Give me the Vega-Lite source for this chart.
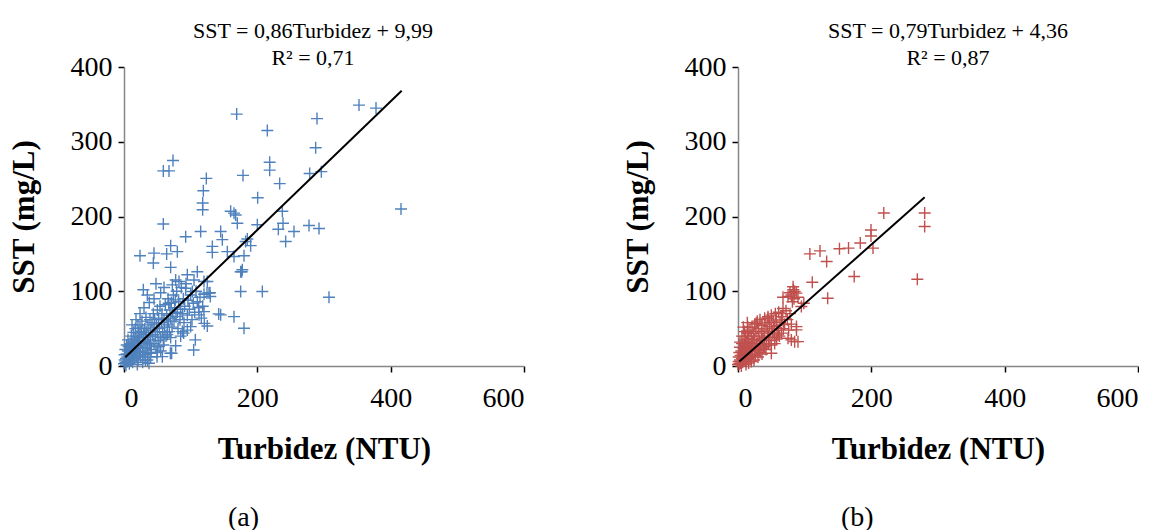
{
  "$schema": "https://vega.github.io/schema/vega-lite/v6.json",
  "background": "white",
  "padding": {"left": 8, "top": 20, "right": 0, "bottom": 0},
  "config": {
    "font": "Liberation Serif",
    "view": {"stroke": null},
    "axis": {
      "grid": false,
      "domainColor": "#868686",
      "domainWidth": 1.5,
      "tickColor": "#000000",
      "tickWidth": 1.5,
      "tickSize": 6,
      "labelFont": "Liberation Serif",
      "labelFontSize": 28,
      "labelColor": "#000000",
      "titleFont": "Liberation Serif",
      "titleFontSize": 31,
      "titleFontWeight": "bold",
      "titleColor": "#000000"
    },
    "title": {"font": "Liberation Serif", "color": "#000000", "fontWeight": "normal"}
  },
  "datasets": {
    "a": [
      {"x":169,"y":337},{"x":215,"y":315},{"x":73.5,"y":275},{"x":59,"y":261},{"x":67.5,"y":261},{"x":123.5,"y":251},{"x":178.5,"y":255},{"x":119,"y":234.5},{"x":218.5,"y":272.5},{"x":218.5,"y":262},{"x":200.5,"y":225},{"x":118,"y":218},{"x":118,"y":209},{"x":160,"y":207},{"x":165,"y":204.5},{"x":352.5,"y":349},{"x":378,"y":345},{"x":289.5,"y":331},{"x":287.5,"y":292},{"x":278.5,"y":257.5},{"x":296,"y":260},{"x":233.5,"y":244},{"x":237.5,"y":207},{"x":415.5,"y":210},{"x":277.5,"y":188},{"x":292.5,"y":184},{"x":255,"y":180},{"x":242.5,"y":166.6},{"x":238.5,"y":191},{"x":59,"y":190},{"x":167.5,"y":202},{"x":170,"y":191},{"x":92.5,"y":173},{"x":115,"y":180},{"x":145,"y":180},{"x":147.5,"y":169},{"x":70,"y":161},{"x":80,"y":153},{"x":64,"y":150},{"x":45,"y":151},{"x":24,"y":147.5},{"x":44,"y":137.7},{"x":70,"y":132},{"x":132.5,"y":160},{"x":132.5,"y":152},{"x":155,"y":153},{"x":165,"y":146.5},{"x":95,"y":122},{"x":110,"y":126},{"x":105,"y":115},{"x":120,"y":113},{"x":77.5,"y":115},{"x":72.5,"y":108.5},{"x":29,"y":102},{"x":125,"y":113},{"x":129,"y":98},{"x":175,"y":126},{"x":175,"y":99.6},{"x":231.5,"y":183},{"x":200,"y":189},{"x":185,"y":170},{"x":190,"y":161},{"x":180,"y":147.5},{"x":176.5,"y":126},{"x":207.5,"y":99.6},{"x":307.5,"y":92},{"x":182.5,"y":166.6},{"x":177.5,"y":128.7},{"x":180,"y":50.5},{"x":127.5,"y":97.5},{"x":145,"y":68.4},{"x":165,"y":66},{"x":120,"y":72.8},{"x":125,"y":53.6},{"x":112.5,"y":68.4},{"x":71.5,"y":17},{"x":77.5,"y":27},{"x":52.5,"y":26},{"x":57.5,"y":12.5},{"x":37.5,"y":3.6},{"x":95,"y":48},{"x":87.5,"y":46},{"x":100,"y":52.7},{"x":102.5,"y":99.6},{"x":92.5,"y":104},{"x":82.5,"y":113},{"x":124.5,"y":97.5},{"x":129.5,"y":93},{"x":142,"y":69.7},{"x":120.5,"y":57},{"x":67,"y":84},{"x":77,"y":88.5},{"x":89.5,"y":44},{"x":107,"y":35},{"x":104.5,"y":21.4},{"x":69.5,"y":17},{"x":39.5,"y":17},{"x":32,"y":8},{"x":49.5,"y":12.5},
      {"x":0,"y":3},{"x":1,"y":8},{"x":1,"y":15},{"x":2,"y":5},{"x":2,"y":22},{"x":3,"y":10},{"x":3,"y":1},{"x":4,"y":16},{"x":4,"y":28},{"x":5,"y":6},{"x":5,"y":12},{"x":6,"y":20},{"x":6,"y":35},{"x":7,"y":9},{"x":7,"y":26},{"x":8,"y":14},{"x":8,"y":3},{"x":9,"y":30},{"x":9,"y":18},{"x":10,"y":7},{"x":10,"y":24},{"x":11,"y":40},{"x":11,"y":13},{"x":12,"y":20},{"x":12,"y":32},{"x":13,"y":5},{"x":13,"y":26},{"x":14,"y":45},{"x":14,"y":16},{"x":15,"y":36},{"x":15,"y":22},{"x":16,"y":10},{"x":16,"y":30},{"x":17,"y":50},{"x":17,"y":19},{"x":18,"y":40},{"x":18,"y":27},{"x":19,"y":13},{"x":20,"y":34},{"x":20,"y":24},{"x":21,"y":55},{"x":21,"y":8},{"x":22,"y":44},{"x":22,"y":30},{"x":23,"y":18},{"x":24,"y":38},{"x":24,"y":52},{"x":25,"y":25},{"x":25,"y":12},{"x":26,"y":46},{"x":27,"y":33},{"x":27,"y":60},{"x":28,"y":20},{"x":29,"y":42},{"x":30,"y":30},{"x":30,"y":15},{"x":31,"y":50},{"x":32,"y":38},{"x":33,"y":24},{"x":33,"y":65},{"x":34,"y":45},{"x":35,"y":32},{"x":36,"y":55},{"x":36,"y":18},{"x":37,"y":40},{"x":38,"y":28},{"x":39,"y":62},{"x":40,"y":48},{"x":40,"y":35},{"x":41,"y":22},{"x":42,"y":58},{"x":43,"y":42},{"x":44,"y":70},{"x":45,"y":30},{"x":45,"y":52},{"x":46,"y":62},{"x":47,"y":40},{"x":48,"y":26},{"x":49,"y":56},{"x":50,"y":46},{"x":50,"y":75},{"x":51,"y":34},{"x":52,"y":64},{"x":53,"y":50},{"x":54,"y":80},{"x":55,"y":38},{"x":56,"y":58},{"x":57,"y":70},{"x":58,"y":45},{"x":59,"y":28},{"x":60,"y":62},{"x":61,"y":52},{"x":62,"y":82},{"x":63,"y":40},{"x":64,"y":68},{"x":65,"y":55},{"x":66,"y":90},{"x":67,"y":60},{"x":68,"y":46},{"x":69,"y":75},{"x":70,"y":64},{"x":71,"y":85},{"x":72,"y":52},{"x":73,"y":70},{"x":74,"y":95},{"x":75,"y":60},{"x":76,"y":78},{"x":78,"y":66},{"x":79,"y":100},{"x":80,"y":72},{"x":81,"y":50},{"x":82,"y":86},{"x":84,"y":62},{"x":85,"y":76},{"x":86,"y":105},{"x":88,"y":70},{"x":89,"y":90},{"x":90,"y":58},{"x":91,"y":80},{"x":93,"y":110},{"x":95,"y":68},{"x":96,"y":88},{"x":98,"y":76},{"x":100,"y":95},{"x":102,"y":62},{"x":104,"y":84},{"x":106,"y":72},{"x":108,"y":100},{"x":110,"y":86},{"x":112,"y":78},{"x":114,"y":92},{"x":116,"y":64},{"x":118,"y":80},{"x":120,"y":96},{"x":40,"y":12},{"x":50,"y":18},{"x":55,"y":20},{"x":60,"y":36},{"x":35,"y":8},{"x":28,"y":5},{"x":20,"y":2},{"x":65,"y":42},{"x":70,"y":38},{"x":85,"y":40},{"x":24,"y":70},{"x":30,"y":78},{"x":18,"y":62},{"x":12,"y":55},{"x":38,"y":85},{"x":45,"y":90},{"x":55,"y":98},{"x":60,"y":105},{"x":48,"y":110},{"x":35,"y":95}
    ],
    "b": [
      {"x":218.7,"y":204.7},{"x":199.5,"y":182},{"x":199.5,"y":174},{"x":202.5,"y":157.7},{"x":183.4,"y":164.5},{"x":165.8,"y":157.7},{"x":152.2,"y":156.8},{"x":123,"y":154},{"x":107.8,"y":150},{"x":133,"y":139.8},{"x":174.3,"y":119.7},{"x":269,"y":116},{"x":280,"y":204.7},{"x":280,"y":186.7},{"x":111.4,"y":112},{"x":134.5,"y":90.7},{"x":82.7,"y":106},{"x":85,"y":99.6},{"x":80,"y":95},{"x":75,"y":93},{"x":87.7,"y":97.5},{"x":67.5,"y":92},{"x":81.6,"y":86},{"x":98.7,"y":84},{"x":95,"y":79.5},{"x":67.5,"y":77},{"x":65,"y":66},{"x":57.4,"y":61.7},{"x":44.9,"y":63.9},{"x":47.3,"y":52.7},{"x":87.7,"y":52.7},{"x":85,"y":32.6},{"x":75,"y":37.1},{"x":27.2,"y":57.2},{"x":60,"y":41.6},{"x":50,"y":17},{"x":32.2,"y":21.4},{"x":87.7,"y":48.3},{"x":80,"y":34.9},{"x":90,"y":32.6},{"x":54.9,"y":52.7},{"x":28.7,"y":57.2},{"x":14.6,"y":44},{"x":83,"y":102},{"x":78,"y":98},{"x":84,"y":90},{"x":90,"y":92},
      {"x":0,"y":2},{"x":1,"y":6},{"x":1,"y":12},{"x":2,"y":3},{"x":2,"y":18},{"x":3,"y":8},{"x":3,"y":25},{"x":4,"y":4},{"x":4,"y":14},{"x":5,"y":20},{"x":5,"y":0},{"x":6,"y":10},{"x":6,"y":30},{"x":7,"y":16},{"x":7,"y":5},{"x":8,"y":24},{"x":8,"y":12},{"x":9,"y":35},{"x":9,"y":8},{"x":10,"y":18},{"x":10,"y":28},{"x":11,"y":14},{"x":11,"y":40},{"x":12,"y":22},{"x":12,"y":6},{"x":13,"y":32},{"x":14,"y":16},{"x":14,"y":44},{"x":15,"y":26},{"x":15,"y":10},{"x":16,"y":36},{"x":17,"y":20},{"x":18,"y":48},{"x":18,"y":30},{"x":19,"y":12},{"x":20,"y":40},{"x":20,"y":24},{"x":21,"y":52},{"x":22,"y":32},{"x":22,"y":16},{"x":23,"y":44},{"x":24,"y":26},{"x":25,"y":56},{"x":25,"y":36},{"x":26,"y":20},{"x":27,"y":46},{"x":28,"y":30},{"x":29,"y":60},{"x":30,"y":40},{"x":30,"y":22},{"x":31,"y":50},{"x":32,"y":34},{"x":33,"y":62},{"x":34,"y":28},{"x":35,"y":44},{"x":36,"y":54},{"x":37,"y":36},{"x":38,"y":24},{"x":39,"y":48},{"x":40,"y":64},{"x":40,"y":38},{"x":42,"y":56},{"x":43,"y":30},{"x":44,"y":46},{"x":45,"y":66},{"x":46,"y":40},{"x":47,"y":58},{"x":48,"y":34},{"x":50,"y":50},{"x":50,"y":68},{"x":52,"y":44},{"x":53,"y":60},{"x":55,"y":38},{"x":56,"y":70},{"x":58,"y":54},{"x":60,"y":48},{"x":61,"y":72},{"x":63,"y":58},{"x":65,"y":44},{"x":67,"y":66},{"x":70,"y":56},{"x":72,"y":74},{"x":74,"y":62},{"x":76,"y":48},{"x":78,"y":70},{"x":80,"y":56},{"x":3,"y":32},{"x":6,"y":40},{"x":10,"y":46},{"x":15,"y":52},{"x":24,"y":8},{"x":30,"y":12},{"x":36,"y":16},{"x":42,"y":22},{"x":50,"y":28},{"x":58,"y":36},{"x":16,"y":4},{"x":20,"y":6},{"x":12,"y":2},{"x":26,"y":14},{"x":33,"y":18},{"x":40,"y":26},{"x":46,"y":30},{"x":62,"y":40},{"x":68,"y":50},{"x":55,"y":30},{"x":8,"y":52},{"x":14,"y":58}
    ],
    "fitA": [{"x":2,"y":11.7},{"x":416.5,"y":368.2}],
    "fitB": [{"x":2,"y":5.9},{"x":280,"y":225.6}]
  },
  "spacing": 97,
  "hconcat": [
    {
      "title": {"text": "(a)", "orient": "bottom", "fontSize": 28, "offset": 40, "dx": 220},
      "vconcat": [
        {
          "title": {"text": ["SST = 0,86Turbidez + 9,99", "R² = 0,71"], "fontSize": 22, "lineHeight": 27, "offset": -17, "dx": -11},
          "width": 400,
          "height": 299,
          "layer": [
            {
              "data": {"name": "a"},
              "mark": {"type": "point", "shape": "M-1,0H1M0,-1V1", "filled": false, "size": 144, "strokeWidth": 1.4, "color": "#4F81BD", "opacity": 1},
              "encoding": {
                "x": {"field": "x", "type": "quantitative", "scale": {"domain": [0, 600], "nice": false, "zero": true}, "axis": {"values": [0, 200, 400, 600], "title": "Turbidez (NTU)", "titlePadding": 22, "labelPadding": 12}},
                "y": {"field": "y", "type": "quantitative", "scale": {"domain": [0, 400], "nice": false}, "axis": {"values": [0, 100, 200, 300, 400], "title": "SST (mg/L)", "titlePadding": 30, "labelPadding": 6}}
              }
            },
            {
              "data": {"name": "fitA"},
              "mark": {"type": "line", "color": "#000000", "strokeWidth": 2},
              "encoding": {
                "x": {"field": "x", "type": "quantitative"},
                "y": {"field": "y", "type": "quantitative"}
              }
            }
          ]
        }
      ]
    },
    {
      "title": {"text": "(b)", "orient": "bottom", "fontSize": 28, "offset": 40, "dx": 219},
      "vconcat": [
        {
          "title": {"text": ["SST = 0,79Turbidez + 4,36", "R² = 0,87"], "fontSize": 22, "lineHeight": 27, "offset": -17, "dx": 10},
          "width": 400,
          "height": 299,
          "layer": [
            {
              "data": {"name": "b"},
              "mark": {"type": "point", "shape": "M-1,0H1M0,-1V1", "filled": false, "size": 144, "strokeWidth": 1.4, "color": "#C0504D", "opacity": 1},
              "encoding": {
                "x": {"field": "x", "type": "quantitative", "scale": {"domain": [0, 600], "nice": false, "zero": true}, "axis": {"values": [0, 200, 400, 600], "title": "Turbidez (NTU)", "titlePadding": 22, "labelPadding": 12}},
                "y": {"field": "y", "type": "quantitative", "scale": {"domain": [0, 400], "nice": false}, "axis": {"values": [0, 100, 200, 300, 400], "title": "SST (mg/L)", "titlePadding": 30, "labelPadding": 6}}
              }
            },
            {
              "data": {"name": "fitB"},
              "mark": {"type": "line", "color": "#000000", "strokeWidth": 2},
              "encoding": {
                "x": {"field": "x", "type": "quantitative"},
                "y": {"field": "y", "type": "quantitative"}
              }
            }
          ]
        }
      ]
    }
  ]
}
